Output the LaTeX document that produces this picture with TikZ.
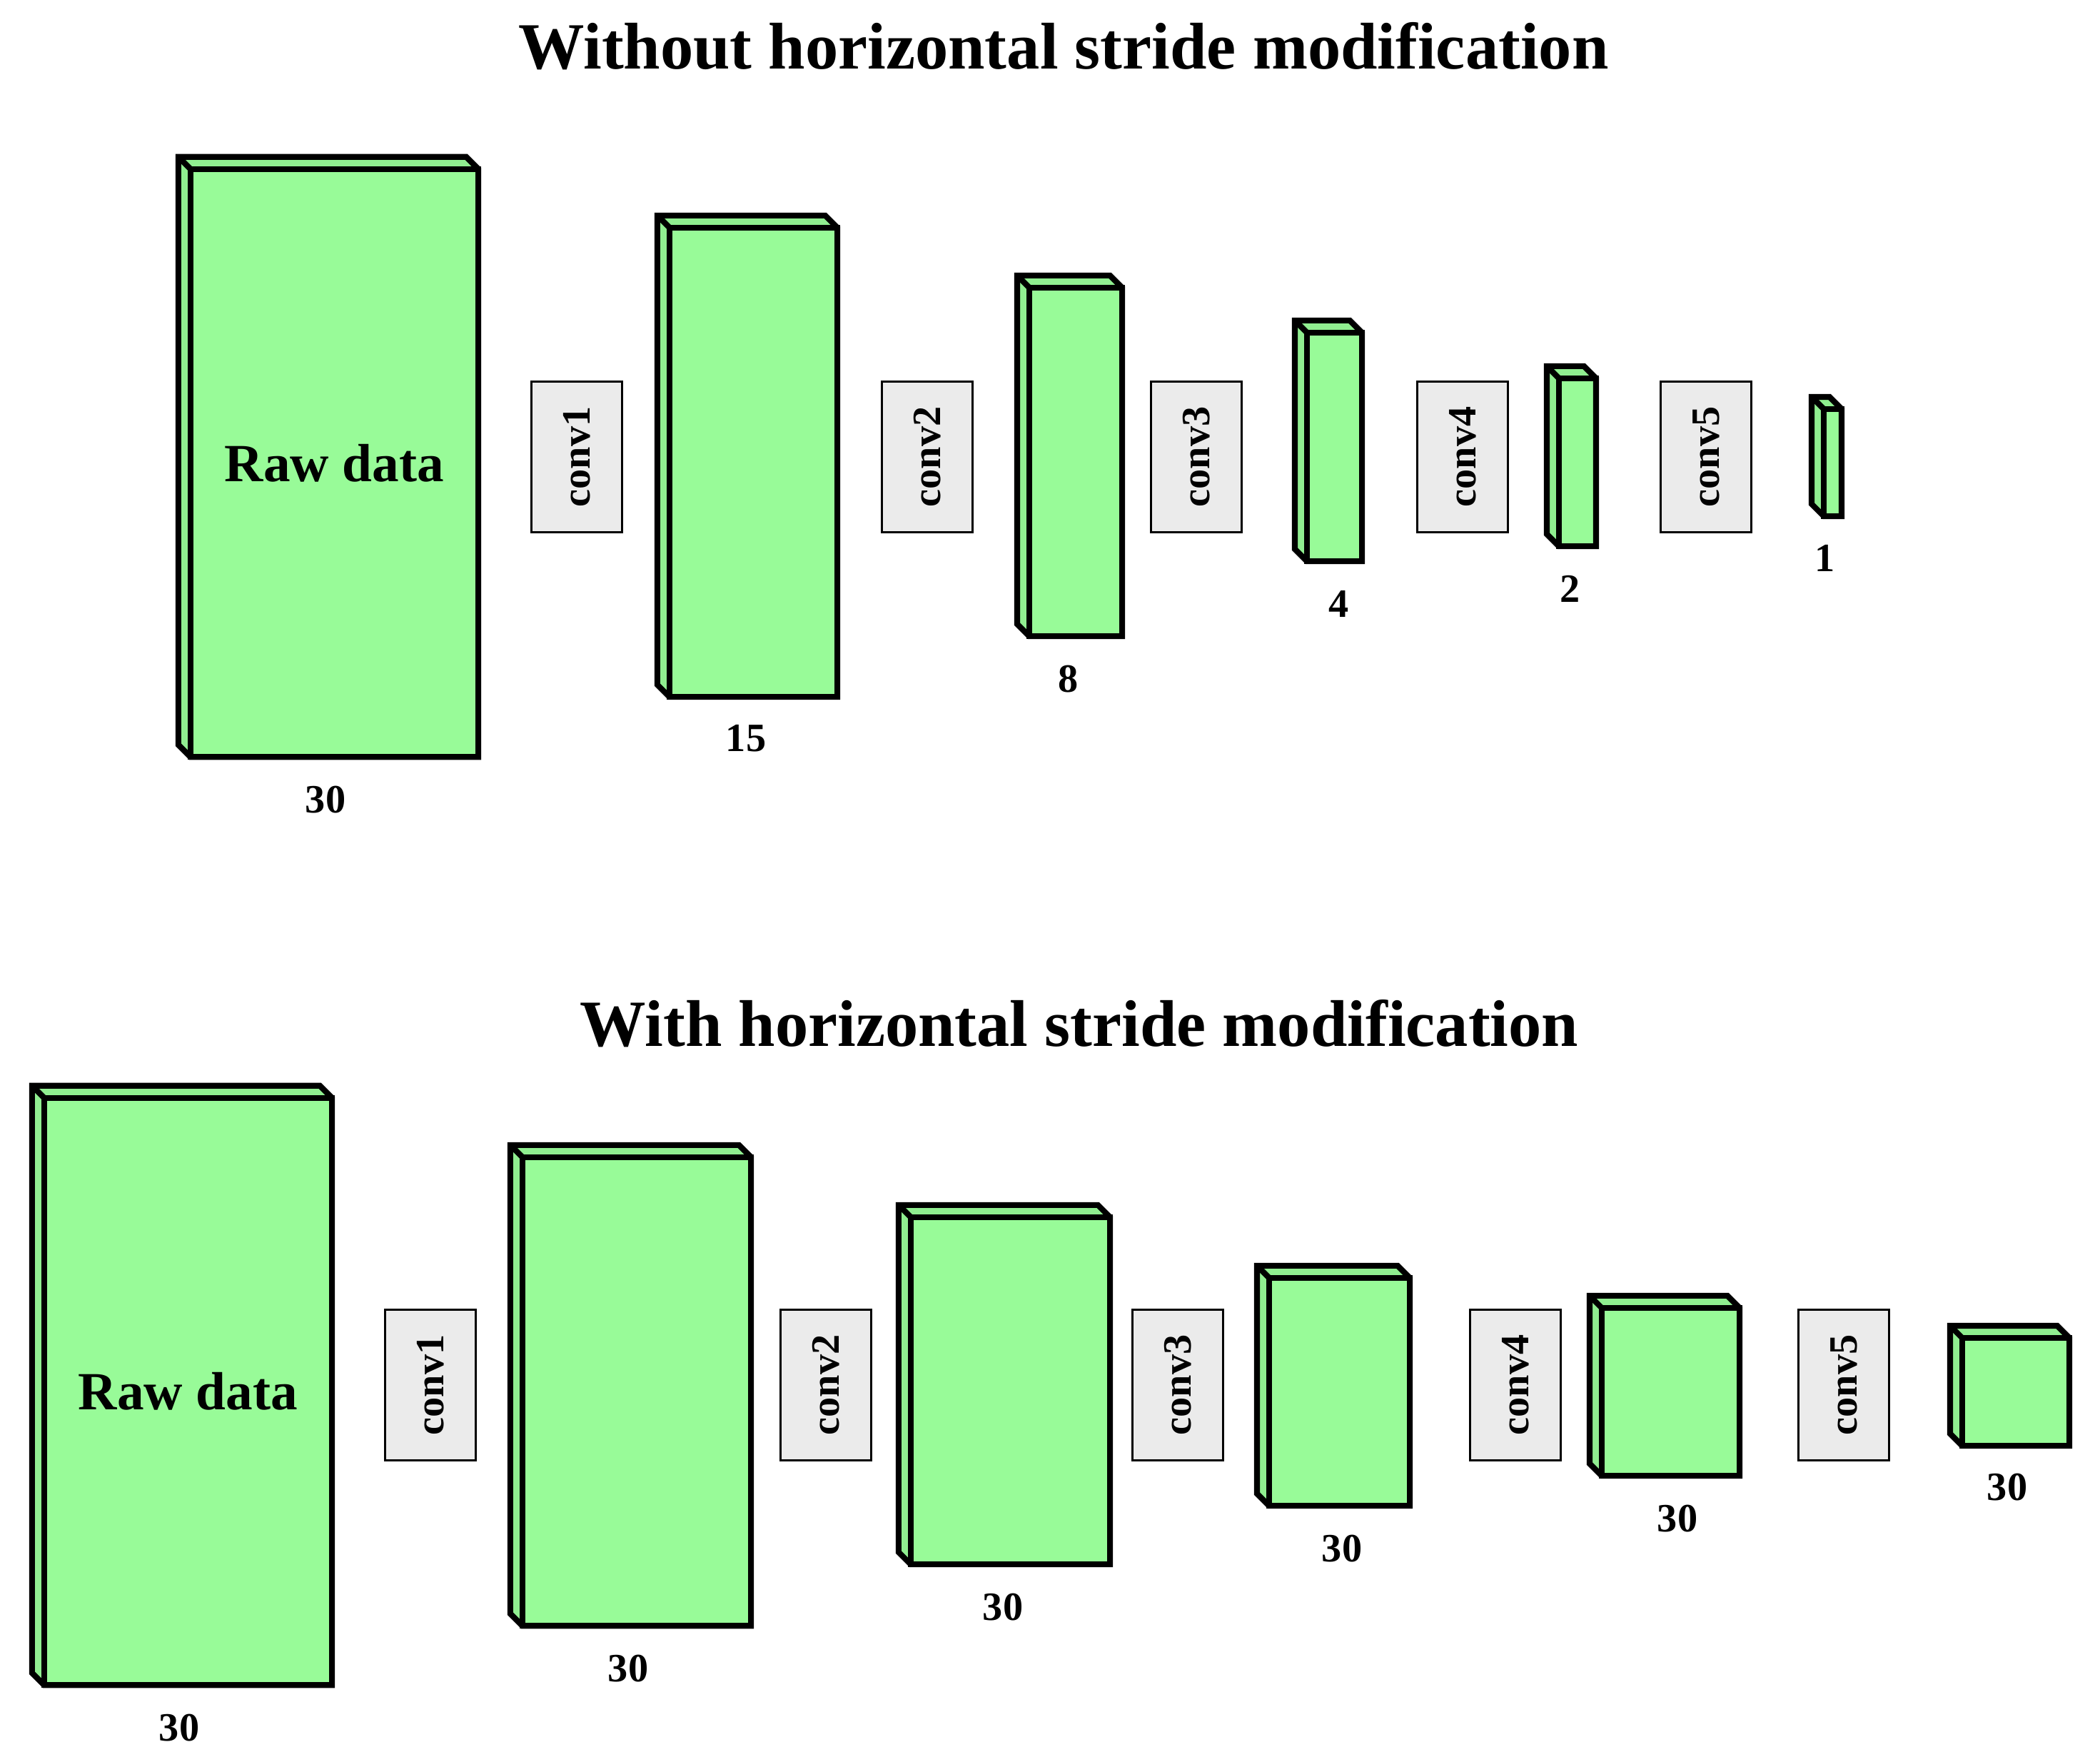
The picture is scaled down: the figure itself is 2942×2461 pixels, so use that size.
\documentclass[tikz,border=0pt]{standalone}
\usepackage{fontspec}
\setmainfont{Liberation Serif}
\usetikzlibrary{calc,positioning}
\definecolor{frontgreen}{HTML}{98FB98}
\definecolor{sidegreen}{HTML}{90EE90}
\definecolor{convgray}{HTML}{EBEBEB}
\tikzset{
    fmap/.style ={draw, fill=frontgreen, line width=2.3pt, outer sep=0pt, inner sep=0pt,
                  font=\bfseries\fontsize{21.4}{25}\selectfont},
    sideface/.style = {fill=sidegreen},
    edge/.style = {draw, line width=2.3pt},
    conv/.style = {draw, fill=convgray, line width=1pt, rotate=90, inner sep=0pt,
                   minimum width=2.11cm, minimum height=1.27cm,
                   font=\bfseries\fontsize{16}{19}\selectfont},
    dimlabel/.style = {font=\bfseries\fontsize{16}{19}\selectfont},
    heading/.style = {anchor=base, font=\bfseries\fontsize{26.3}{31}\selectfont}
}
% depth of a feature map: side and top faces, then outline
\newcommand{\faces}[1]{%
    \fill[sideface] (#1.north west) -- ++(-17,-17) -- ($(#1.south west)+(-17,-17)$) -- (#1.south west) -- cycle;
    \fill[sideface] (#1.north west) -- ++(-17,-17) -- ($(#1.north east)+(-17,-17)$) -- (#1.north east) -- cycle;
    \path[edge] ($(#1.north west)+(-17,-17)$) -- ($(#1.north east)+(-17,-17)$) -- (#1.north east)
        -- (#1.south east) -- (#1.south west) -- ($(#1.south west)+(-17,-17)$) -- cycle;
    \path[edge] (#1.north west) -- ++(-17,-17);
    \path[edge] (#1.north west) rectangle (#1.south east);
}
\begin{document}
\begin{tikzpicture}[x=0.01cm, y=-0.01cm]
        \useasboundingbox (0,0) rectangle (2942,2461);

        % without modification
        \node[heading] (t1) at (1490,97) {Without horizontal stride modification};

        \node[fmap, minimum width=4.03cm, minimum height=8.23cm] (a1) at (468.5,648.5) {Raw data};
        \node[fmap, minimum width=2.35cm, minimum height=6.57cm] (a2) at (1055.5,647.5) {};
        \node[fmap, minimum width=1.30cm, minimum height=4.88cm] (a3) at (1507,647) {};
        \node[fmap, minimum width=0.77cm, minimum height=3.20cm] (a4) at (1869.5,626) {};
        \node[fmap, minimum width=0.52cm, minimum height=2.35cm] (a5) at (2210,647.5) {};
        \node[fmap, minimum width=0.25cm, minimum height=1.50cm] (a6) at (2567.5,648) {};
        \foreach \n in {a1,a2,a3,a4,a5,a6} {\faces{\n}}

        \node[dimlabel] (la1) at (456,1120) {30};
        \node[dimlabel] (la2) at (1045,1034) {15};
        \node[dimlabel] (la3) at (1497,951) {8};
        \node[dimlabel] (la4) at (1876,846) {4};
        \node[dimlabel] (la5) at (2200,825) {2};
        \node[dimlabel] (la6) at (2557,782) {1};

        \node[conv] (ca1) at (808,640) {conv1};
        \node[conv] (ca2) at (1299,640) {conv2};
        \node[conv] (ca3) at (1676,640) {conv3};
        \node[conv] (ca4) at (2049,640) {conv4};
        \node[conv] (ca5) at (2390,640) {conv5};

        % with modification
        \node[heading] (t2) at (1512,1465) {With horizontal stride modification};

        \node[fmap, minimum width=4.03cm, minimum height=8.22cm] (b1) at (263.5,1949) {Raw data};
        \node[fmap, minimum width=3.20cm, minimum height=6.56cm] (b2) at (892,1949) {};
        \node[fmap, minimum width=2.79cm, minimum height=4.86cm] (b3) at (1415.5,1948) {};
        \node[fmap, minimum width=1.97cm, minimum height=3.19cm] (b4) at (1876.5,1949.5) {};
        \node[fmap, minimum width=1.93cm, minimum height=2.35cm] (b5) at (2340.5,1949.5) {};
        \node[fmap, minimum width=1.50cm, minimum height=1.51cm] (b6) at (2824,1949.5) {};
        \foreach \n in {b1,b2,b3,b4,b5,b6} {\faces{\n}}

        \node[dimlabel] (lb1) at (251,2420) {30};
        \node[dimlabel] (lb2) at (880,2337) {30};
        \node[dimlabel] (lb3) at (1405,2251) {30};
        \node[dimlabel] (lb4) at (1880,2169) {30};
        \node[dimlabel] (lb5) at (2350,2127) {30};
        \node[dimlabel] (lb6) at (2812,2083) {30};

        \node[conv] (cb1) at (603,1940) {conv1};
        \node[conv] (cb2) at (1157,1940) {conv2};
        \node[conv] (cb3) at (1650,1940) {conv3};
        \node[conv] (cb4) at (2123,1940) {conv4};
        \node[conv] (cb5) at (2583,1940) {conv5};
\end{tikzpicture}
\end{document}
